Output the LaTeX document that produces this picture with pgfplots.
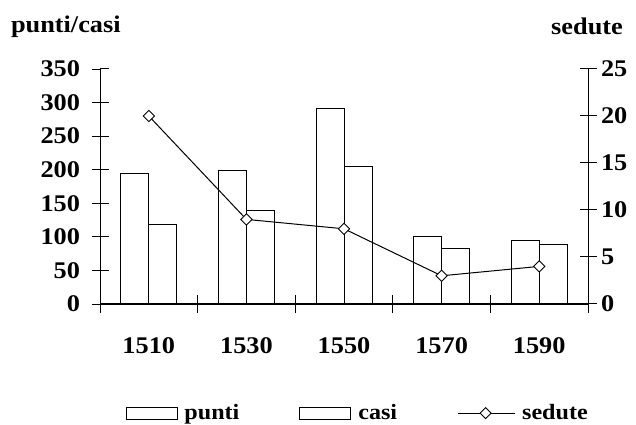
\documentclass[border=0pt]{standalone}
\usepackage{fontspec}
\setmainfont{Liberation Serif}[FakeStretch=1.1]
\usepackage{pgfplots}
\pgfplotsset{compat=1.18}
\begin{document}
\begin{tikzpicture}
\useasboundingbox (0bp,0bp) rectangle (636bp,425bp);
\pgfplotsset{
  every axis/.append style={
    at={(100bp,121bp)}, anchor=south west,
    scale only axis, width=488bp, height=235bp,
    xmin=-0.5, xmax=4.5,
    /pgf/number format/assume math mode=true,
    tick label style={font=\bfseries\fontsize{24}{24}\selectfont},
    label style={font=\bfseries\fontsize{24}{24}\selectfont},
    every tick/.style={line width=1bp, black},
    axis line style={line width=1bp},
  },
}
\begin{axis}[
  axis y line*=left, axis x line*=bottom,
  tick align=outside, major tick length=8.5bp,
  ymin=0, ymax=350, ytick={0,50,...,350},
  xtick={0,...,4}, xticklabels={1510,1530,1550,1570,1590},
  major x tick style={draw=none},
  extra x ticks={-0.5,0.5,1.5,2.5,3.5,4.5}, extra x tick labels={},
  extra x tick style={major x tick style={draw=black, line width=1bp}},
  xticklabel style={yshift=-22bp},
  yticklabel style={xshift=-8bp},
  ybar=0pt, bar width=28bp,
  ylabel={punti/casi},
  ylabel style={rotate=-90, at={(axis description cs:-0.07,1.18)}, anchor=center},
  legend style={at={(axis description cs:0.528,-0.464)}, anchor=center, draw=none, legend columns=3,
    font=\bfseries\fontsize{22}{22}\selectfont,
    /tikz/every odd column/.append style={column sep=5bp},
    /tikz/column 2/.style={column sep=58bp},
    /tikz/column 4/.style={column sep=58bp}},
  legend cell align=left,
]
\addplot[draw=black, fill=white, line width=0.9bp,
  legend image code/.code={\draw[black, line width=0.9bp, fill=white] (0bp,-6bp) rectangle (51bp,6bp);}]
  coordinates {(0,194) (1,199) (2,291) (3,101) (4,95)};
\addlegendentry{punti}
\addplot[draw=black, fill=white, line width=0.9bp,
  legend image code/.code={\draw[black, line width=0.9bp, fill=white] (0bp,-6bp) rectangle (51bp,6bp);}]
  coordinates {(0,119) (1,139) (2,205) (3,83) (4,89)};
\addlegendentry{casi}
\addlegendimage{legend image code/.code={\draw[black, line width=1bp] (0bp,0bp) -- (57bp,0bp);
  \draw[black, line width=0.9bp, fill=white] (28bp,-5.5bp) -- (33.5bp,0bp) -- (28bp,5.5bp) -- (22.5bp,0bp) -- cycle;}}
\addlegendentry{sedute}
\end{axis}
% inside halves of the crossing ticks (left and bottom)
\begin{axis}[
  axis y line*=left, axis x line*=bottom,
  tick align=inside, major tick length=8.5bp,
  ymin=0, ymax=350, ytick={0,50,...,350}, yticklabels={},
  xtick={-0.5,0.5,1.5,2.5,3.5,4.5}, xticklabels={},
]
\end{axis}
\begin{axis}[
  axis y line*=right, axis x line=none,
  tick align=outside, major tick length=8.5bp,
  ymin=0, ymax=25, ytick={0,5,...,25},
  yticklabel style={xshift=1bp},
  ylabel={sedute},
  ylabel style={rotate=-90, at={(axis description cs:0.998,1.18)}, anchor=center},
]
\addplot[black, line width=1bp, mark=square*, mark size=4bp,
  mark options={fill=white, rotate=45, line width=0.9bp}]
  coordinates {(0,20) (1,9) (2,8) (3,3) (4,4)};
\end{axis}
% inside halves of the right axis ticks
\begin{axis}[
  axis y line*=right, axis x line=none,
  tick align=inside, major tick length=8.5bp,
  ymin=0, ymax=25, ytick={0,5,...,25}, yticklabels={},
]
\end{axis}
\end{tikzpicture}
\end{document}
